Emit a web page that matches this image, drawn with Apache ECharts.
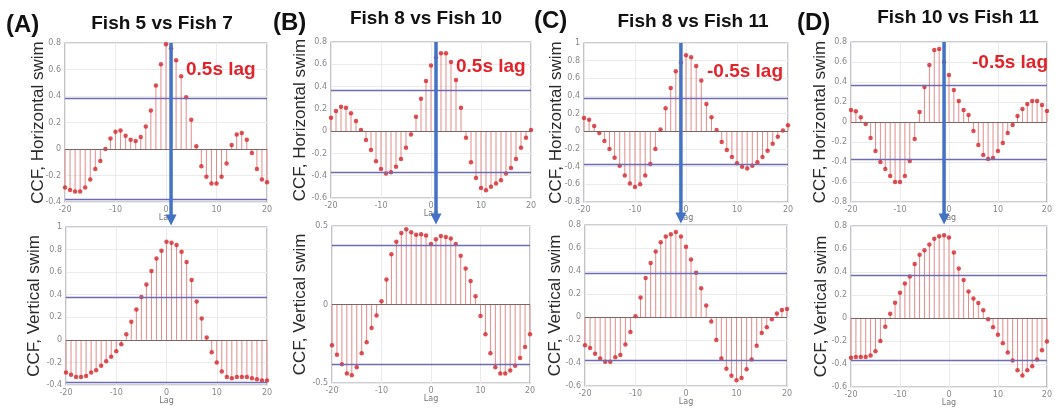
<!DOCTYPE html>
<html>
<head>
<meta charset="utf-8">
<script src="https://cdn.jsdelivr.net/npm/echarts@6/dist/echarts.min.js"></script>
<style>
html,body{margin:0;padding:0;background:#fff;}
#chart{width:1055px;height:408px;}
</style>
</head>
<body>
<div id="chart"></div>
<script>
// ---------- data ----------
const lags = [-20,-19,-18,-17,-16,-15,-14,-13,-12,-11,-10,-9,-8,-7,-6,-5,-4,-3,-2,-1,0,1,2,3,4,5,6,7,8,9,10,11,12,13,14,15,16,17,18,19,20];

const panelLetters = ['(A)', '(B)', '(C)', '(D)'];
const panelTitles = ['Fish 5 vs Fish 7', 'Fish 8 vs Fish 10', 'Fish 8 vs Fish 11', 'Fish 10 vs Fish 11'];
const lagNotes = ['0.5s lag', '0.5s lag', '-0.5s lag', '-0.5s lag'];
const arrowLags = [1, 1, -1, -1];

const fish5v7Horizontal = [-0.29,-0.31,-0.32,-0.32,-0.29,-0.23,-0.15,-0.09,0.00,0.08,0.13,0.14,0.10,0.07,0.06,0.09,0.17,0.29,0.48,0.64,
  0.79,0.76,
  0.67,0.55,0.39,0.22,0.02,-0.13,-0.21,-0.26,-0.26,-0.21,-0.11,0.03,0.11,0.12,0.07,-0.03,-0.15,-0.23,-0.25];
const fish5v7Vertical = [-0.29,-0.31,-0.33,-0.33,-0.32,-0.29,-0.27,-0.23,-0.19,-0.15,-0.10,-0.04,0.05,0.16,0.27,0.38,0.49,0.61,0.72,0.79,
  0.87,0.86,
  0.84,0.78,0.69,0.53,0.34,0.19,0.02,-0.11,-0.20,-0.28,-0.33,-0.34,-0.33,-0.33,-0.33,-0.34,-0.35,-0.36,-0.36];
const fish8v10Horizontal = [0.12,0.18,0.22,0.21,0.16,0.09,0.01,-0.08,-0.17,-0.27,-0.34,-0.38,-0.37,-0.32,-0.25,-0.15,-0.03,0.13,0.29,0.45,
  0.59,0.66,
  0.70,0.70,0.62,0.46,0.21,-0.06,-0.28,-0.42,-0.51,-0.53,-0.50,-0.47,-0.44,-0.38,-0.33,-0.25,-0.15,-0.06,0.01];
const fish8v10Vertical = [-0.26,-0.32,-0.38,-0.44,-0.45,-0.40,-0.31,-0.24,-0.15,-0.07,0.02,0.16,0.32,0.40,0.455,0.48,0.46,0.445,0.447,0.44,
  0.385,
  0.415,0.436,0.43,0.42,0.385,0.31,0.23,0.15,0.053,-0.074,-0.19,-0.31,-0.40,-0.44,-0.44,-0.42,-0.39,-0.34,-0.27,-0.19];
const fish8v11Horizontal = [0.15,0.13,0.06,-0.02,-0.11,-0.20,-0.30,-0.39,-0.50,-0.59,-0.63,-0.60,-0.50,-0.37,-0.20,0.02,0.26,0.49,0.68,
  0.78,0.86,
  0.84,0.74,0.575,0.31,0.16,0.015,-0.12,-0.21,-0.29,-0.36,-0.40,-0.42,-0.39,-0.35,-0.29,-0.22,-0.14,-0.06,0.01,0.07];
const fish8v11Vertical = [-0.245,-0.27,-0.32,-0.36,-0.39,-0.39,-0.35,-0.33,-0.24,-0.13,0.006,0.17,0.34,0.47,0.57,0.65,0.70,0.72,0.74,0.70,
  0.61,
  0.50,0.385,0.25,0.10,-0.04,-0.20,-0.36,-0.45,-0.51,-0.55,-0.53,-0.455,-0.37,-0.25,-0.14,-0.09,-0.02,0.03,0.06,0.07];
const fish10v11Horizontal = [0.12,0.107,0.047,-0.02,-0.16,-0.29,-0.40,-0.47,-0.54,-0.60,-0.60,-0.54,-0.39,-0.17,0.10,0.35,0.57,0.72,0.73,
  0.60,0.47,
  0.32,0.21,0.12,0.07,-0.09,-0.23,-0.33,-0.37,-0.36,-0.29,-0.21,-0.11,-0.03,0.06,0.13,0.18,0.21,0.21,0.17,0.11];
const fish10v11Vertical = [-0.345,-0.34,-0.34,-0.34,-0.325,-0.29,-0.20,-0.075,0.038,0.133,0.22,0.30,0.36,0.47,0.55,0.59,0.64,0.69,0.71,0.72,
  0.70,
  0.57,0.43,0.33,0.23,0.17,0.13,0.067,-0.01,-0.08,-0.145,-0.22,-0.30,-0.37,-0.455,-0.50,-0.455,-0.42,-0.36,-0.28,-0.205];

// order: A-top, A-bottom, B-top, B-bottom, C-top, C-bottom, D-top, D-bottom
const panelSeries = [fish5v7Horizontal, fish5v7Vertical, fish8v10Horizontal, fish8v10Vertical,
                     fish8v11Horizontal, fish8v11Vertical, fish10v11Horizontal, fish10v11Vertical];
const yMins = [-0.4, -0.4, -0.6, -0.5, -0.8, -0.6, -0.8, -0.6];
const yMaxs = [0.8, 1, 0.8, 0.5, 1, 0.8, 0.8, 0.8];
const yIntervals = [0.2, 0.2, 0.2, 0.5, 0.2, 0.2, 0.2, 0.2];
const confBounds = [0.375, 0.376, 0.372, 0.376, 0.373, 0.375, 0.37, 0.372];
const yNames = ['CCF, Horizontal swim', 'CCF, Vertical swim'];
const xTickMin = -20, xTickMax = 20, xTickStep = 10;

// ---------- layout ----------
const gridBoxes = [
  {left: 65, top: 43, width: 202, height: 159},
  {left: 66, top: 227, width: 201, height: 158},
  {left: 331, top: 42, width: 200, height: 156},
  {left: 332, top: 226, width: 198, height: 157},
  {left: 584, top: 43, width: 204, height: 159},
  {left: 585, top: 225, width: 202, height: 161},
  {left: 851, top: 42, width: 202, height: 160},
  {left: 851, top: 226, width: 202, height: 161}
];
const yNameCenters = [38, 34, 300, 300, 556, 555, 820, 821];
const letterPos = [[6, 25], [273, 23], [534, 21], [797, 23]];
const titlePos = [[162, 24], [426, 19], [693, 22], [958, 18]];
const notePos = [[186, 70], [456, 67], [707, 72], [972, 63]];

const chart = echarts.init(document.getElementById('chart'), null, {renderer: 'canvas'});

const grids = [], xAxes = [], yAxes = [], series = [];
gridBoxes.forEach((g, i) => {
  grids.push(Object.assign({show: true, borderColor: '#9c9ca8', borderWidth: 1.2, backgroundColor: 'transparent', containLabel: false}, g));
  xAxes.push({
    type: 'value', gridIndex: i, min: xTickMin, max: xTickMax, interval: xTickStep,
    name: 'Lag', nameLocation: 'middle', nameGap: 12, nameMoveOverlap: false,
    nameTextStyle: {fontSize: 8, color: '#777', fontFamily: 'DejaVu Sans'},
    axisLine: {show: false}, axisTick: {show: false},
    axisLabel: {fontSize: 8, color: '#888', margin: 4, fontFamily: 'DejaVu Sans'},
    splitLine: {show: true, lineStyle: {color: '#ebebeb', width: 1}}
  });
  const fs = 17;
  yAxes.push({
    type: 'value', gridIndex: i, min: yMins[i], max: yMaxs[i], interval: yIntervals[i],
    name: yNames[i % 2], nameLocation: 'middle', nameGap: g.left - yNameCenters[i] - fs / 2,
    nameMoveOverlap: false,
    nameTextStyle: {fontSize: fs, color: '#2a2a2a', fontFamily: 'Liberation Sans'},
    axisLine: {show: false}, axisTick: {show: false},
    axisLabel: {fontSize: 8, color: '#888', margin: 4, fontFamily: 'DejaVu Sans',
      formatter: v => String(Math.round(v * 10) / 10)},
    splitLine: {show: true, lineStyle: {color: '#ebebeb', width: 1}}
  });
  const data = lags.map((l, k) => [l, panelSeries[i][k]]);
  series.push({
    type: 'custom', xAxisIndex: i, yAxisIndex: i, data: data, silent: true, z: 2,
    encode: {x: 0, y: 1},
    renderItem: function (params, api) {
      const p0 = api.coord([api.value(0), 0]);
      const p1 = api.coord([api.value(0), api.value(1)]);
      return {type: 'line', shape: {x1: p0[0], y1: p0[1], x2: p1[0], y2: p1[1]},
              style: {stroke: '#e58a8a', lineWidth: 1}};
    }
  });
  series.push({
    type: 'scatter', xAxisIndex: i, yAxisIndex: i, data: data, silent: true, z: 4,
    symbol: 'circle', symbolSize: 4.5, itemStyle: {color: '#d42429'},
    markLine: {
      silent: true, symbol: ['none', 'none'], label: {show: false}, animation: false,
      data: [
        {yAxis: confBounds[i], lineStyle: {color: '#6c6cb4', width: 1.4, type: 'solid'}},
        {yAxis: -confBounds[i], lineStyle: {color: '#6c6cb4', width: 1.4, type: 'solid'}},
        {yAxis: 0, lineStyle: {color: '#7f6464', width: 1.2, type: 'solid'}}
      ]
    }
  });
});

chart.setOption({
  animation: false,
  grid: grids, xAxis: xAxes, yAxis: yAxes, series: series
});

// ---------- annotations ----------
const graphics = [];
for (let c = 0; c < 4; c++) {
  graphics.push({type: 'text', x: letterPos[c][0], y: letterPos[c][1], z: 10,
    style: {text: panelLetters[c], font: 'bold 24px "Liberation Sans"', fill: '#111', align: 'left', verticalAlign: 'middle'}});
  graphics.push({type: 'text', x: titlePos[c][0], y: titlePos[c][1], z: 10,
    style: {text: panelTitles[c], font: 'bold 19px "Liberation Sans"', fill: '#111', align: 'center', verticalAlign: 'middle'}});
  graphics.push({type: 'text', x: notePos[c][0], y: notePos[c][1], z: 12,
    style: {text: lagNotes[c], font: 'bold 19px "Liberation Sans"', fill: '#e3232a', align: 'left', verticalAlign: 'middle'}});
  const topG = gridBoxes[2 * c], botG = gridBoxes[2 * c + 1];
  const px = chart.convertToPixel({xAxisIndex: 2 * c}, arrowLags[c]);
  const tipY = botG.top - 1.5;
  const headLen = 11, headHalf = 5.5;
  graphics.push({type: 'line', z: 11, silent: true,
    shape: {x1: px, y1: topG.top, x2: px, y2: tipY - headLen + 1},
    style: {stroke: '#4472c4', lineWidth: 3.5}});
  graphics.push({type: 'polygon', z: 11, silent: true,
    shape: {points: [[px - headHalf, tipY - headLen], [px + headHalf, tipY - headLen], [px, tipY]]},
    style: {fill: '#4472c4'}});
}
chart.setOption({graphic: graphics});
</script>
</body>
</html>
